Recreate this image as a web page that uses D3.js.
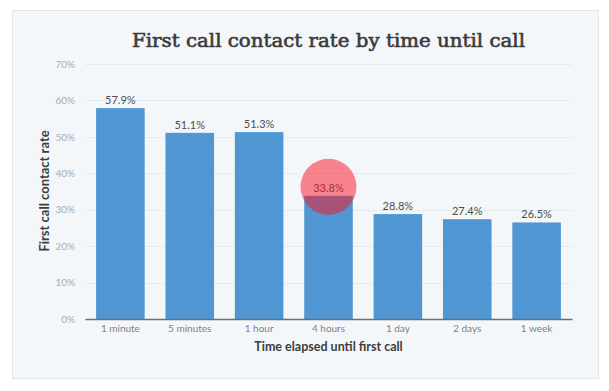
<!DOCTYPE html>
<html><head><meta charset="utf-8">
<script src="https://cdn.jsdelivr.net/npm/d3@7"></script>
<style>
html,body{margin:0;padding:0;background:#fff;}
svg{display:block;}
</style></head>
<body>
<svg id="chart" width="609" height="391"></svg>
<script>
const categories = ["1 minute","5 minutes","1 hour","4 hours","1 day","2 days","1 week"];
const values = [57.9, 51.1, 51.3, 33.8, 28.8, 27.4, 26.5];
const yTicks = [0,10,20,30,40,50,60,70];
const highlightCategory = "4 hours";
const title = "First call contact rate by time until call";
const xTitle = "Time elapsed until first call";
const yTitle = "First call contact rate";

const svg = d3.select("#chart");
const W = 609, H = 391;
const m = {left:85, right:W-572, top:64, bottom:H-319};

svg.append("rect").attr("x",12.5).attr("y",10.5).attr("width",586).attr("height",368)
  .attr("fill","#f3f7fa").attr("stroke","#e2e6ea");

const x = d3.scaleBand().domain(categories).range([m.left, W-m.right]).paddingInner(0.3).paddingOuter(0.16);
const y = d3.scaleLinear().domain([0,70]).range([H-m.bottom, m.top]);

svg.append("text").attr("x",328.5).attr("y",47).attr("text-anchor","middle")
  .attr("font-family","'DejaVu Serif',serif").attr("font-size",18.5)
  .attr("fill","#3b3b3b").attr("stroke","#3b3b3b").attr("stroke-width",0.6)
  .attr("textLength",393).attr("lengthAdjust","spacingAndGlyphs").text(title);

// gridlines
svg.append("g").selectAll("line").data(yTicks.filter(d=>d>0)).join("line")
  .attr("x1",m.left).attr("x2",W-m.right).attr("y1",d=>Math.round(y(d))+0.5).attr("y2",d=>Math.round(y(d))+0.5)
  .attr("stroke","#e7ebef").attr("stroke-width",1);

// y axis
const ya = svg.append("g").attr("transform",`translate(75,0)`)
  .call(d3.axisLeft(y).tickValues(yTicks).tickFormat(d=>d+"%").tickSize(0).tickPadding(0));
ya.select(".domain").remove();
ya.selectAll("text").attr("font-family","Lato, 'Open Sans', sans-serif").attr("font-size",10).attr("fill","#a6acb1");

// bars
svg.append("g").selectAll("rect").data(values).join("rect")
  .attr("x",(d,i)=>x(categories[i])).attr("width",x.bandwidth())
  .attr("y",d=>y(d)).attr("height",d=>y(0)-y(d)).attr("fill","#4f96d3");

// value labels
svg.append("g").selectAll("text").data(values).join("text")
  .attr("x",(d,i)=>x(categories[i])+x.bandwidth()/2).attr("y",d=>y(d)-4)
  .attr("text-anchor","middle").attr("font-family","Lato, 'Open Sans', sans-serif").attr("font-size",11)
  .attr("fill","#4d4d4d").text(d=>d.toFixed(1)+"%");

// x axis
const xa = svg.append("g").attr("transform",`translate(0,${y(0)})`)
  .call(d3.axisBottom(x).tickSize(0).tickPadding(6).tickSizeOuter(0));
xa.select(".domain").attr("stroke","#6b6f73").attr("stroke-width",1.5);
xa.selectAll("text").attr("font-family","Lato, 'Open Sans', sans-serif").attr("font-size",10).attr("fill","#7d8286");

svg.append("text").attr("x",328.5).attr("y",351).attr("text-anchor","middle")
  .attr("font-family","Lato, 'Open Sans', sans-serif").attr("font-size",12.5).attr("font-weight",700)
  .attr("fill","#3d3d3d").text(xTitle);

svg.append("text").attr("transform","translate(49,191) rotate(-90)").attr("text-anchor","middle")
  .attr("font-family","Lato, 'Open Sans', sans-serif").attr("font-size",13).attr("font-weight",700)
  .attr("fill","#3d3d3d").text(yTitle);

// highlight circle
const hi = categories.indexOf(highlightCategory);
svg.append("circle").attr("cx",x(highlightCategory)+x.bandwidth()/2).attr("cy",y(values[hi])-9)
  .attr("r",28).attr("fill","rgb(255,15,30)").attr("fill-opacity",0.5);
</script>
</body></html>
